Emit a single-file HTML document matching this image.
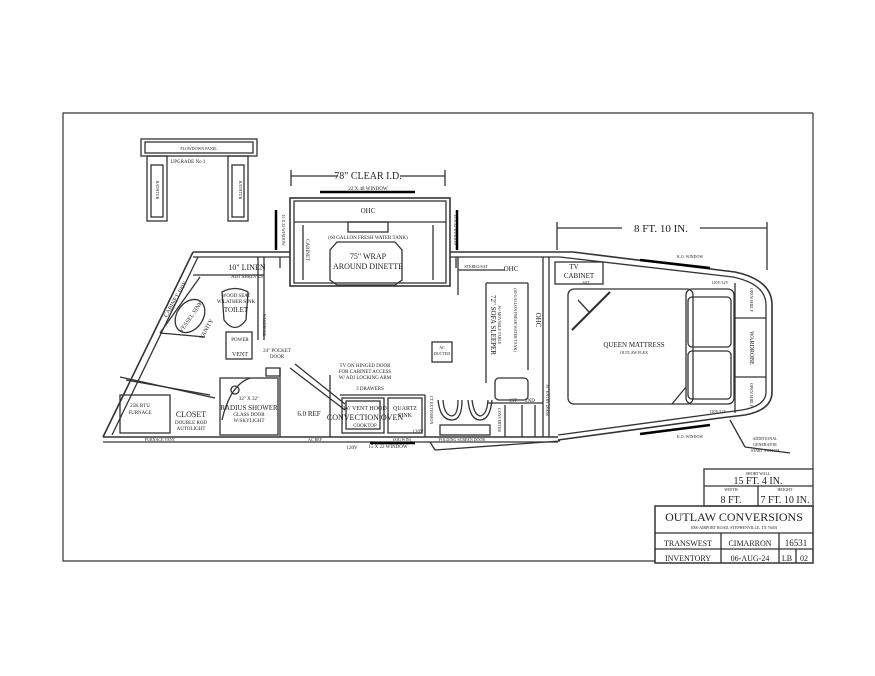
<!DOCTYPE html>
<html><head><meta charset="utf-8"><style>
html,body{margin:0;padding:0;background:#fff;}
svg{display:block;}
text{font-family:"Liberation Serif",serif;fill:#222;}
</style></head><body>
<svg width="875" height="676" viewBox="0 0 875 676" xmlns="http://www.w3.org/2000/svg">
<g fill="none" stroke="#333" stroke-width="1.3">
<polyline points="813,113 63,113 63,561 655,561" stroke-width="1.2"/>
<line x1="813" y1="113" x2="813" y2="469" stroke-width="1.2"/>
<rect x="704" y="469" width="109" height="37"/>
<line x1="704" y1="486" x2="813" y2="486"/>
<line x1="758" y1="486" x2="758" y2="506"/>
<rect x="655" y="506" width="158" height="57" stroke-width="1.5"/>
<line x1="655" y1="533" x2="813" y2="533"/>
<line x1="655" y1="549" x2="813" y2="549"/>
<line x1="721" y1="533" x2="721" y2="563"/>
<line x1="779" y1="533" x2="779" y2="563"/>
<line x1="796" y1="549" x2="796" y2="563"/>

<rect x="141" y="139" width="116" height="17"/>
<rect x="145" y="142" width="108" height="11"/>
<rect x="147" y="156" width="20" height="65"/>
<rect x="151" y="165" width="12" height="52"/>
<rect x="228" y="156" width="20" height="65"/>
<rect x="232" y="165" width="12" height="52"/>

<line x1="291" y1="176" x2="338" y2="176"/><line x1="400" y1="176" x2="445" y2="176"/>
<line x1="291" y1="170" x2="291" y2="186"/><line x1="445" y1="170" x2="445" y2="186"/>
<line x1="557" y1="228" x2="622" y2="228"/><line x1="700" y1="228" x2="767" y2="228"/>
<line x1="557" y1="222" x2="557" y2="250"/><line x1="767" y1="222" x2="767" y2="270"/>

<line x1="193" y1="252" x2="290" y2="252" stroke-width="1.6"/>
<line x1="193" y1="257" x2="290" y2="257"/>
<line x1="450" y1="252" x2="573" y2="252" stroke-width="1.6"/>
<line x1="450" y1="257" x2="560" y2="257"/>
<path d="M573,252 L735,272 Q772,280 772,305 L772,392 Q772,410 745,415 L720,418 L558,440" stroke-width="1.6"/>
<path d="M560,257 L733,277 Q766,284 766,305 L766,392 Q766,406 742,410 L720,413 L558,435"/>
<line x1="193" y1="252" x2="103" y2="437" stroke-width="1.6"/>
<line x1="198" y1="257" x2="112" y2="435"/>
<line x1="103" y1="437" x2="558" y2="437" stroke-width="1.6"/>
<line x1="103" y1="442" x2="558" y2="442"/>
<line x1="430" y1="442" x2="435" y2="450"/><line x1="435" y1="450" x2="560" y2="441"/>
<line x1="320" y1="192" x2="415" y2="192" stroke="#000" stroke-width="2.5"/>
<line x1="640" y1="260" x2="710" y2="268" stroke="#000" stroke-width="2.5"/>
<line x1="640" y1="434" x2="710" y2="425" stroke="#000" stroke-width="2.5"/>
<line x1="370" y1="443" x2="415" y2="443" stroke="#000" stroke-width="2.5"/>
<line x1="276" y1="210" x2="276" y2="250" stroke="#000" stroke-width="2.5"/>
<line x1="457" y1="210" x2="457" y2="250" stroke="#000" stroke-width="2.5"/>

<rect x="290" y="198" width="160" height="88" stroke-width="1.6"/>
<rect x="294" y="201" width="152" height="82"/>
<line x1="294" y1="222" x2="446" y2="222"/>
<rect x="348" y="222" width="40" height="10"/>
<path d="M337,242 L395,242 L402,250 L402,280 L395,285 L337,285 L330,280 L330,250 Z"/>
<line x1="303" y1="225" x2="303" y2="280"/><line x1="433" y1="225" x2="433" y2="280"/>
<line x1="280" y1="257" x2="280" y2="268"/><line x1="456" y1="257" x2="456" y2="268"/>

<line x1="193" y1="275" x2="264" y2="275"/>
<line x1="264" y1="257" x2="264" y2="340"/>
<line x1="258" y1="257" x2="258" y2="340"/>
<line x1="160" y1="333" x2="200" y2="277"/>
<line x1="160" y1="333" x2="205" y2="337"/>
<ellipse cx="190" cy="316" rx="18" ry="13" transform="rotate(-55 190 316)"/>
<path d="M222,292 Q235,285 248,292 L246,320 Q235,335 224,320 Z"/>
<rect x="226" y="332" width="26" height="27"/>
<line x1="120" y1="377" x2="215" y2="398"/>
<line x1="126" y1="380" x2="210" y2="395"/>
<rect x="120" y="395" width="50" height="38"/>
<rect x="220" y="378" width="58" height="57"/>
<path d="M222,420 Q230,385 250,378"/>
<circle cx="235" cy="390" r="4"/>
<rect x="266" y="368" width="14" height="8"/><line x1="280" y1="368" x2="280" y2="437"/>
<line x1="290" y1="368" x2="345" y2="410"/>
<line x1="295" y1="364" x2="345" y2="404"/>
<line x1="330" y1="375" x2="330" y2="437"/>
<line x1="340" y1="395" x2="425" y2="395"/>
<rect x="342" y="398" width="42" height="35"/>
<rect x="346" y="401" width="34" height="28"/>
<rect x="388" y="398" width="34" height="35"/>
<line x1="425" y1="395" x2="425" y2="437"/>
<rect x="432" y="342" width="20" height="20"/>
<path d="M438,400 Q440,420 452,420 Q462,420 462,400 M443,400 Q444,415 452,416 Q458,415 458,400"/>
<path d="M468,400 Q470,420 480,420 Q490,420 492,400 M472,400 Q474,415 480,416 Q487,415 488,400"/>
<rect x="440" y="425" width="50" height="10"/>
<line x1="458" y1="257" x2="458" y2="295"/>
<line x1="458" y1="270" x2="505" y2="270"/>
<line x1="486" y1="283" x2="486" y2="383"/>
<line x1="486" y1="283" x2="528" y2="283"/>
<line x1="528" y1="283" x2="528" y2="370"/>
<rect x="495" y="378" width="33" height="22" rx="4"/>
<line x1="543" y1="257" x2="543" y2="437"/>
<line x1="549" y1="257" x2="549" y2="437"/>
<line x1="487" y1="403" x2="543" y2="403"/>
<line x1="505" y1="405" x2="505" y2="437"/><line x1="522" y1="405" x2="522" y2="437"/>
<line x1="535" y1="405" x2="535" y2="437"/>
<rect x="555" y="262" width="48" height="22"/>
<rect x="568" y="289" width="125" height="115" rx="6"/>
<rect x="686" y="289" width="48" height="115" rx="6"/>
<rect x="688" y="297" width="43" height="50" rx="4"/>
<rect x="688" y="351" width="43" height="48" rx="4"/>
<line x1="672" y1="404" x2="686" y2="387"/>
<line x1="735" y1="283" x2="735" y2="413"/>
<line x1="735" y1="318" x2="766" y2="318"/>
<line x1="735" y1="377" x2="766" y2="377"/>
<line x1="572" y1="330" x2="610" y2="292" stroke-width="2.2"/>
<line x1="578" y1="300" x2="590" y2="313"/>
<line x1="730" y1="420" x2="745" y2="447"/><line x1="745" y1="447" x2="790" y2="453"/>
</g>

<g font-size="5" text-anchor="middle">
<text x="199" y="150" font-size="4">FLOWDOWN PANEL</text>
<text x="188" y="163">UPGRADE No 1</text>
<text x="368" y="179" font-size="10">78" CLEAR I.D.</text>
<text x="368" y="190">22 X 48 WINDOW</text>
<text x="368" y="213" font-size="7">OHC</text>
<text x="368" y="239" font-size="5">(60 GALLON FRESH WATER TANK)</text>
<text x="368" y="259" font-size="8">75" WRAP</text>
<text x="368" y="269" font-size="8">AROUND DINETTE</text>
<text x="247" y="270" font-size="8">10" LINEN</text>
<text x="247" y="278">ADJ SHELVES</text>
<text x="236" y="297">WOOD SEAT</text>
<text x="236" y="303">W/LATHER SINK</text>
<text x="236" y="312" font-size="7">TOILET</text>
<text x="240" y="341" font-size="5">POWER</text>
<text x="240" y="356" font-size="6">VENT</text>
<text x="277" y="352">24" POCKET</text>
<text x="277" y="358">DOOR</text>
<text x="190" y="319" font-size="6" transform="rotate(-55 190 316)">VESSEL SINK</text>
<text x="177" y="300" font-size="6" transform="rotate(-60 177 300)">CABINET 100V</text>
<text x="208" y="330" font-size="6" transform="rotate(-60 208 330)">VANITY</text>
<text x="140" y="407">25K BTU</text>
<text x="140" y="414">FURNACE</text>
<text x="191" y="417" font-size="8">CLOSET</text>
<text x="191" y="424">DOUBLE ROD</text>
<text x="191" y="430">AUTOLIGHT</text>
<text x="249" y="400">32" X 32"</text>
<text x="249" y="410" font-size="7">RADIUS SHOWER</text>
<text x="249" y="416">GLASS DOOR</text>
<text x="249" y="422">W/SKYLIGHT</text>
<text x="309" y="416" font-size="7">6.0 REF</text>
<text x="365" y="367">TV ON HINGED DOOR</text>
<text x="365" y="373">FOR CABINET ACCESS</text>
<text x="365" y="379">W/ ADJ LOCKING ARM</text>
<text x="370" y="390">3 DRAWERS</text>
<text x="365" y="410" font-size="6">W/ VENT HOOD</text>
<text x="365" y="420" font-size="8">CONVECTION OVEN</text>
<text x="365" y="427">COOKTOP</text>
<text x="405" y="410" font-size="6">QUARTZ</text>
<text x="405" y="417" font-size="6">SINK</text>
<text x="418" y="433">120V</text>
<text x="442" y="349" font-size="4">AC</text>
<text x="442" y="355" font-size="4">DUCTED</text>
<text x="160" y="441" font-size="4">FURNACE VENT</text>
<text x="315" y="441" font-size="4">AC REF</text>
<text x="352" y="449">120V</text>
<text x="388" y="448">15 X 22 WINDOW</text>
<text x="402" y="441" font-size="4">(SIG WIN)</text>
<text x="462" y="441" font-size="4">FOLDING SCREEN DOOR</text>
<text x="511" y="271" font-size="7">OHC</text>
<text x="476" y="268" font-size="4">STEREO/SAT</text>
<text x="574" y="269" font-size="7">TV</text>
<text x="579" y="278" font-size="7">CABINET</text>
<text x="586" y="284" font-size="4">SAT</text>
<text x="513" y="402" font-size="5">1ST</text>
<text x="530" y="402" font-size="5">2ND</text>
<text x="634" y="347" font-size="7">QUEEN MATTRESS</text>
<text x="634" y="354" font-size="4">OUTLAW FLEX</text>
<text x="720" y="284" font-size="4">120V/12V</text>
<text x="718" y="413" font-size="4">120V/12V</text>
<text x="690" y="258" font-size="4">K.O. WINDOW</text>
<text x="690" y="438" font-size="4">K.O. WINDOW</text>
<text x="765" y="440" font-size="4">ADDITIONAL</text>
<text x="765" y="446" font-size="4">GENERATOR</text>
<text x="765" y="452" font-size="4">START SWITCH</text>
<text x="661" y="232" font-size="11">8 FT. 10 IN.</text>
<text x="758" y="475" font-size="4">SHORT WALL</text>
<text x="758" y="484" font-size="10">15 FT. 4 IN.</text>
<text x="731" y="491" font-size="4">WIDTH</text>
<text x="731" y="503" font-size="10">8 FT.</text>
<text x="785" y="491" font-size="4">HEIGHT</text>
<text x="785" y="503" font-size="10">7 FT. 10 IN.</text>
<text x="734" y="521" font-size="12">OUTLAW CONVERSIONS</text>
<text x="734" y="529" font-size="4">1000 AIRPORT ROAD, STEPHENVILLE, TX 76401</text>
<text x="688" y="546" font-size="8">TRANSWEST</text>
<text x="750" y="546" font-size="8">CIMARRON</text>
<text x="796" y="546" font-size="9">16531</text>
<text x="688" y="561" font-size="8">INVENTORY</text>
<text x="750" y="561" font-size="8">06-AUG-24</text>
<text x="787" y="561" font-size="8">LB</text>
<text x="804" y="561" font-size="8">02</text>
</g>
<g font-size="4" text-anchor="middle">
<text transform="translate(156 190) rotate(90)">BATHTUB</text>
<text transform="translate(239 190) rotate(90)">BATHTUB</text>
<text transform="translate(282 230) rotate(90)">15 X 22 WINDOW</text>
<text transform="translate(454 230) rotate(90)">15 X 22 WINDOW</text>
<text transform="translate(306 250) rotate(90)" font-size="5">CABINET</text>
<text transform="translate(491 325) rotate(90)" font-size="7">72" SOFA SLEEPER</text>
<text transform="translate(498 325) rotate(90)">W/ MOVABLE TABLE</text>
<text transform="translate(514 320) rotate(90)">(40 GALLON FRESH WATER TANK)</text>
<text transform="translate(536 320) rotate(90)" font-size="7">OHC</text>
<text transform="translate(546 400) rotate(90)">30" ENTRY DOOR</text>
<text transform="translate(498 420) rotate(90)">CONVERTER</text>
<text transform="translate(750 300) rotate(90)">OPEN SHELF</text>
<text transform="translate(750 348) rotate(90)" font-size="6">WARDROBE</text>
<text transform="translate(750 395) rotate(90)">OPEN SHELF</text>
<text transform="translate(430 410) rotate(90)">CT EXTENSION</text>
<text transform="translate(263 325) rotate(90)">WARDROBE</text>
</g>
</svg>
</body></html>
